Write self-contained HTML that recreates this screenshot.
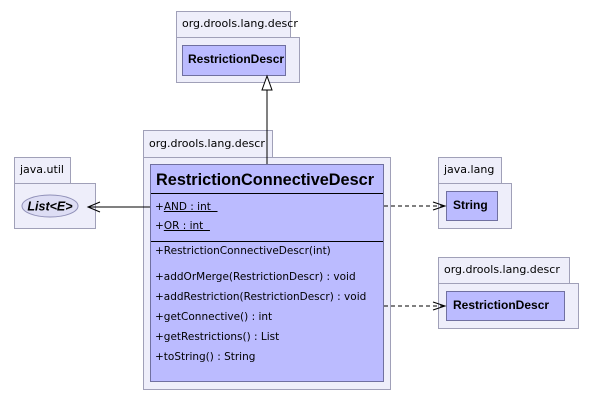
<!DOCTYPE html>
<html><head><style>
body{margin:0;width:595px;height:401px;background:#fff;position:relative;overflow:hidden;font-family:"DejaVu Sans","Liberation Sans",sans-serif;}
.a{position:absolute;box-sizing:border-box;}
.pk{background:#eeeefa;border:1px solid #a0a0b8;}
.cl{background:#bbbbff;border:1px solid #7070a0;}
.t{position:absolute;font-size:11px;color:#000;white-space:nowrap;}
.b{font-weight:bold;font-size:12px;font-family:"Liberation Sans",sans-serif;}
</style></head><body>
<div class="a pk" style="left:176px;top:11px;width:115px;height:27px;"></div>
<div class="a pk" style="left:176px;top:37px;width:124px;height:46px;"></div>
<div class="t" style="left:182px;top:17px;">org.drools.lang.descr</div>
<div class="a cl" style="left:182px;top:45px;width:104px;height:31px;"></div>
<div class="t b" style="left:188px;top:52px;">RestrictionDescr</div>
<div class="a pk" style="left:14px;top:157px;width:57px;height:27px;"></div>
<div class="a pk" style="left:14px;top:183px;width:82px;height:46px;"></div>
<div class="t" style="left:20px;top:163px;">java.util</div>
<div class="a pk" style="left:143px;top:130px;width:130px;height:28px;"></div>
<div class="a pk" style="left:143px;top:157px;width:248px;height:233px;"></div>
<div class="t" style="left:149px;top:137px;">org.drools.lang.descr</div>
<div class="a cl" style="left:150px;top:164px;width:234px;height:218px;"></div>
<div class="t" style="left:156px;top:171px;font-weight:bold;font-size:16.3px;font-family:'Liberation Sans',sans-serif;">RestrictionConnectiveDescr</div>
<div class="a" style="left:151px;top:193px;width:232px;height:1px;background:#000;"></div>
<div class="a" style="left:151px;top:241px;width:232px;height:1px;background:#000;"></div>
<div class="t" style="left:155px;top:201px;font-size:10.5px;">+<span style="text-decoration:underline">AND : int&nbsp;&nbsp;</span></div>
<div class="t" style="left:155px;top:220px;font-size:10.5px;">+<span style="text-decoration:underline">OR : int&nbsp;&nbsp;</span></div>
<div class="t" style="left:155px;top:245px;font-size:10.5px;">+RestrictionConnectiveDescr(int)</div>
<div class="t" style="left:155px;top:271px;font-size:10.5px;">+addOrMerge(RestrictionDescr) : void</div>
<div class="t" style="left:155px;top:291px;font-size:10.5px;">+addRestriction(RestrictionDescr) : void</div>
<div class="t" style="left:155px;top:311px;font-size:10.5px;">+getConnective() : int</div>
<div class="t" style="left:155px;top:331px;font-size:10.5px;">+getRestrictions() : List</div>
<div class="t" style="left:155px;top:351px;font-size:10.5px;">+toString() : String</div>
<div class="a pk" style="left:438px;top:157px;width:64px;height:27px;"></div>
<div class="a pk" style="left:438px;top:183px;width:74px;height:46px;"></div>
<div class="t" style="left:444px;top:163px;">java.lang</div>
<div class="a cl" style="left:446px;top:191px;width:52px;height:30px;"></div>
<div class="t b" style="left:453px;top:198px;">String</div>
<div class="a pk" style="left:438px;top:257px;width:132px;height:27px;"></div>
<div class="a pk" style="left:438px;top:283px;width:141px;height:46px;"></div>
<div class="t" style="left:444px;top:263px;">org.drools.lang.descr</div>
<div class="a cl" style="left:446px;top:291px;width:119px;height:30px;"></div>
<div class="t b" style="left:453px;top:298px;">RestrictionDescr</div>
<svg class="a" style="left:0;top:0" width="595" height="401">
<ellipse cx="50" cy="206" rx="28" ry="11" fill="#ddddf4" stroke="#9090b8"/>
<text x="50" y="210.5" text-anchor="middle" font-family="Liberation Sans,sans-serif" font-size="12.5" font-weight="bold" font-style="italic">List&lt;E&gt;</text>
<line x1="267" y1="90" x2="267" y2="164" stroke="#000"/>
<polygon points="267,76 262,90 272,90" fill="#fff" stroke="#000"/>
<line x1="150" y1="207" x2="88" y2="207" stroke="#000"/>
<polyline points="100,202 88,207 100,212" fill="none" stroke="#000"/>
<line x1="384" y1="206" x2="444" y2="206" stroke="#000" stroke-dasharray="4,3"/>
<polyline points="433,202 445,206 433,210" fill="none" stroke="#000"/>
<line x1="384" y1="306" x2="444" y2="306" stroke="#000" stroke-dasharray="4,3"/>
<polyline points="433,302 445,306 433,310" fill="none" stroke="#000"/>
</svg>
</body></html>
